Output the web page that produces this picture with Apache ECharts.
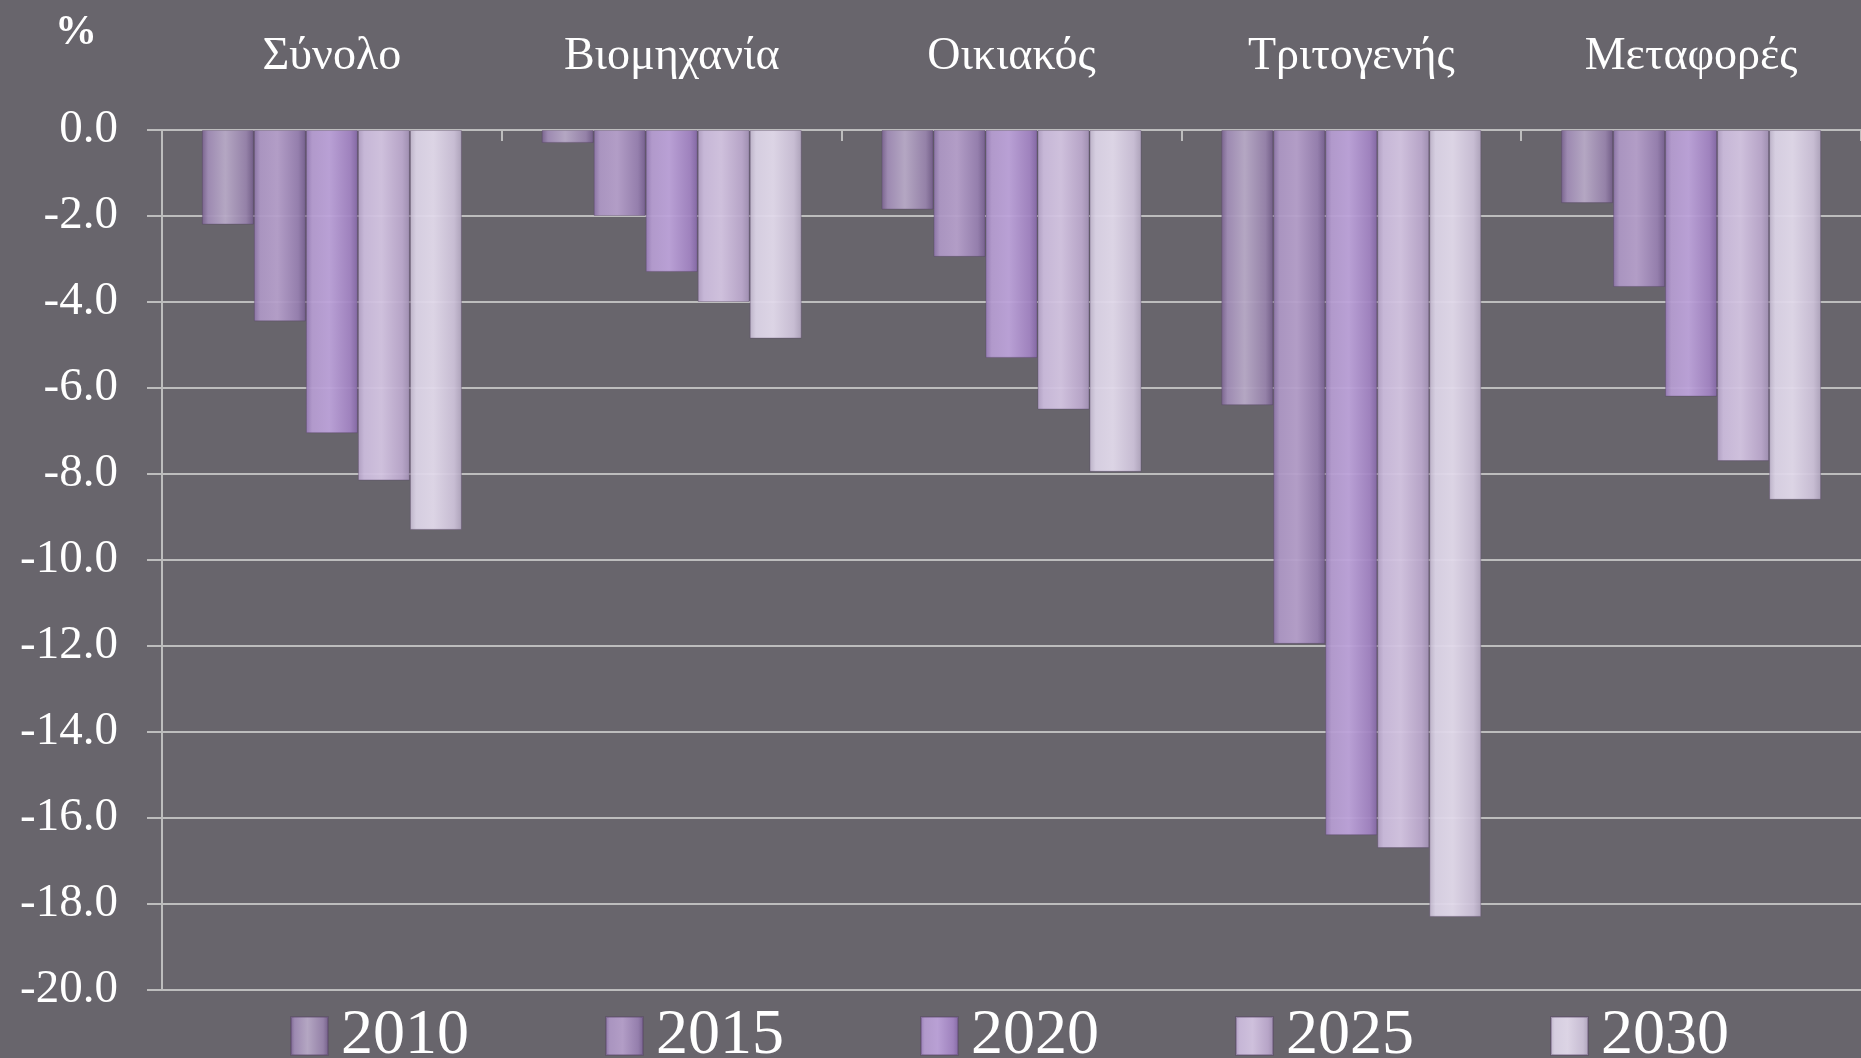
<!DOCTYPE html>
<html>
<head>
<meta charset="utf-8">
<script src="https://cdn.jsdelivr.net/npm/echarts@6/dist/echarts.min.js"></script>
<style>
  html, body { margin: 0; padding: 0; background: #68656c; }
  #chart { width: 1861px; height: 1058px; }
</style>
</head>
<body>
<div id="chart"></div>
<script>
// ---- data ----
const categories = ['Σύνολο', 'Βιομηχανία', 'Οικιακός', 'Τριτογενής', 'Μεταφορές'];
const years = ['2010', '2015', '2020', '2025', '2030'];
const s2010 = [-2.2, -0.3, -1.85, -6.4, -1.7];
const s2015 = [-4.45, -2.0, -2.95, -11.95, -3.65];
const s2020 = [-7.05, -3.3, -5.3, -16.4, -6.2];
const s2025 = [-8.15, -4.0, -6.5, -16.7, -7.7];
const s2030 = [-9.3, -4.85, -7.95, -18.3, -8.6];
const yTicks = { min: -20, max: 0, interval: 2 };
const unitLabel = '%';

const seriesValues = [s2010, s2015, s2020, s2025, s2030];

// ---- styles ----
const stops = [
  ['#7a648f', '#a08cb5', '#b8aac7', '#9783ab', '#725d88'],
  ['#8b74a6', '#ad97c4', '#b6a0cb', '#9780b0', '#76608f'],
  ['#977db6', '#b59cd0', '#bda3da', '#a284c2', '#8468a5'],
  ['#b2a1c4', '#cbbbdc', '#d4c5e2', '#bba8cc', '#a190b3'],
  ['#c0b6cc', '#dbd3e6', '#e2daeb', '#ccc1d8', '#b0a5bd']
];
function grad(c) {
  return new echarts.graphic.LinearGradient(0, 0, 1, 0, [
    { offset: 0, color: c[0] },
    { offset: 0.12, color: c[1] },
    { offset: 0.45, color: c[2] },
    { offset: 0.85, color: c[3] },
    { offset: 1, color: c[4] }
  ]);
}

const serifFont = "'Liberation Serif', 'DejaVu Serif', serif";
const lineColor = '#bdbdbd';

const chart = echarts.init(document.getElementById('chart'), null, { renderer: 'canvas' });

const series = years.map((y, i) => ({
  name: y,
  type: 'bar',
  data: seriesValues[i],
  barWidth: 52,
  barGap: '0%',
  itemStyle: {
    color: grad(stops[i]),
    opacity: 0.95,
    borderColor: 'rgba(80,60,95,0.35)',
    borderWidth: 1
  },
  emphasis: { disabled: true }
}));

chart.setOption({
  backgroundColor: '#68656c',
  animation: false,
  graphic: [{
    type: 'text',
    left: 55,
    top: 12,
    style: {
      text: unitLabel,
      fill: '#ffffff',
      font: "bold 42px 'Liberation Serif', serif"
    }
  }],
  grid: { left: 162, right: 0, top: 130, bottom: 68, containLabel: false },
  legend: {
    data: years,
    left: 285,
    top: 999,
    itemWidth: 37,
    itemHeight: 38,
    itemGap: 136,
    icon: 'rect',
    textStyle: { color: '#ffffff', fontSize: 64, fontFamily: serifFont, padding: [0, 0, 0, 8] }
  },
  xAxis: {
    type: 'category',
    data: categories,
    position: 'top',
    axisLine: { show: true, onZero: false, lineStyle: { color: lineColor, width: 2 } },
    axisTick: { show: true, inside: true, length: 11, lineStyle: { color: lineColor, width: 2 } },
    axisLabel: { color: '#ffffff', fontSize: 46, fontFamily: serifFont, margin: 50 },
    splitLine: { show: false }
  },
  yAxis: {
    type: 'value',
    min: yTicks.min,
    max: yTicks.max,
    interval: yTicks.interval,
    axisLine: { show: true, lineStyle: { color: lineColor, width: 2 } },
    axisTick: { show: true, length: 15, lineStyle: { color: lineColor, width: 2 } },
    axisLabel: {
      color: '#ffffff', fontSize: 47, fontFamily: serifFont, margin: 44,
      formatter: v => v.toFixed(1)
    },
    splitLine: { show: true, lineStyle: { color: lineColor, width: 2 } }
  },
  series: series
});
</script>
</body>
</html>
